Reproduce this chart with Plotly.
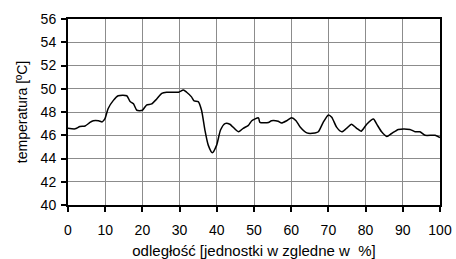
import plotly.graph_objects as go

x_vals = [0, 1.9, 3.2, 4.6, 5.9, 6.8, 8.2, 9.2, 9.9, 10.8, 12.2, 13.5, 15.8, 16.7, 17.6, 18.5, 20, 21.1, 22.5,
          23.8, 25.2, 26.5, 29.7, 31, 31.9, 33.2, 33.9, 35.0, 35.9, 36.8, 37.7, 38.8, 39.96, 41.0, 42.2, 43.5,
          45.8, 47.1, 48.5, 49.4, 51.2, 51.6, 53.9, 54.7, 56.5, 57.4, 58.8, 60.1, 61.3, 62.4, 64.2, 66.4,
          67.3, 68.6, 70.0, 70.9, 72.2, 73.6, 74.9, 76.2, 77.6, 78.8, 80.3, 82.1, 83.0, 84.3, 85.7, 87.0,
          88.8, 91.9, 93.3, 94.6, 96.0, 98.7, 100]
temp = [46.6, 46.55, 46.75, 46.8, 47.1, 47.25, 47.25, 47.15, 47.4, 48.3, 49.0, 49.4, 49.4, 48.9, 48.7, 48.15,
        48.15, 48.6, 48.7, 49.1, 49.6, 49.7, 49.7, 49.9, 49.7, 49.3, 48.95, 48.9, 48.15, 46.45, 45.15, 44.5,
        45.15, 46.45, 47.0, 46.95, 46.3, 46.6, 46.85, 47.25, 47.5, 47.1, 47.1, 47.25, 47.2, 47.05, 47.25,
        47.5, 47.25, 46.7, 46.2, 46.2, 46.3, 47.1, 47.75, 47.55, 46.7, 46.3, 46.6, 46.95, 46.6, 46.35,
        46.95, 47.4, 46.95, 46.3, 45.9, 46.15, 46.5, 46.5, 46.3, 46.3, 46.0, 46.0, 45.8]

x_ticks = [0, 10, 20, 30, 40, 50, 60, 70, 80, 90, 100]
y_ticks = [40, 42, 44, 46, 48, 50, 52, 54, 56]

fig = go.Figure()
fig.add_trace(go.Scatter(x=x_vals, y=temp, mode="lines",
                         line=dict(color="black", width=1.5, shape="spline", smoothing=0.6),
                         showlegend=False, hoverinfo="skip"))

font = dict(family="Liberation Sans, Arial, sans-serif", size=14, color="black")
fig.update_layout(
    width=456, height=259,
    margin=dict(l=68, r=16, t=19, b=54),
    paper_bgcolor="white", plot_bgcolor="white",
    font=font,
    xaxis=dict(range=[0, 100], tickvals=x_ticks, ticks="outside", ticklen=5, tickwidth=1.5,
               tickcolor="black", showline=True, linecolor="black", linewidth=2, mirror=True,
               showgrid=True, gridcolor="#8c8c8c", gridwidth=1, zeroline=False, automargin=False,
               tickfont=dict(size=14), ticklabelstandoff=6,
               title=dict(text="odległość [jednostki w zgledne w  %]", font=dict(size=15), standoff=16)),
    yaxis=dict(range=[40, 56], tickvals=y_ticks, ticks="outside", ticklen=5, tickwidth=1.5,
               tickcolor="black", showline=True, linecolor="black", linewidth=2, mirror=True,
               showgrid=True, gridcolor="#8c8c8c", gridwidth=1, zeroline=False, automargin=False,
               tickfont=dict(size=14), ticklabelstandoff=2,
               title=dict(text="temperatura [ºC]", font=dict(size=14), standoff=10)),
)
fig.write_html("out.html", config={"displayModeBar": False},
               post_script="document.body.style.margin='0';document.body.style.overflow='hidden';")
